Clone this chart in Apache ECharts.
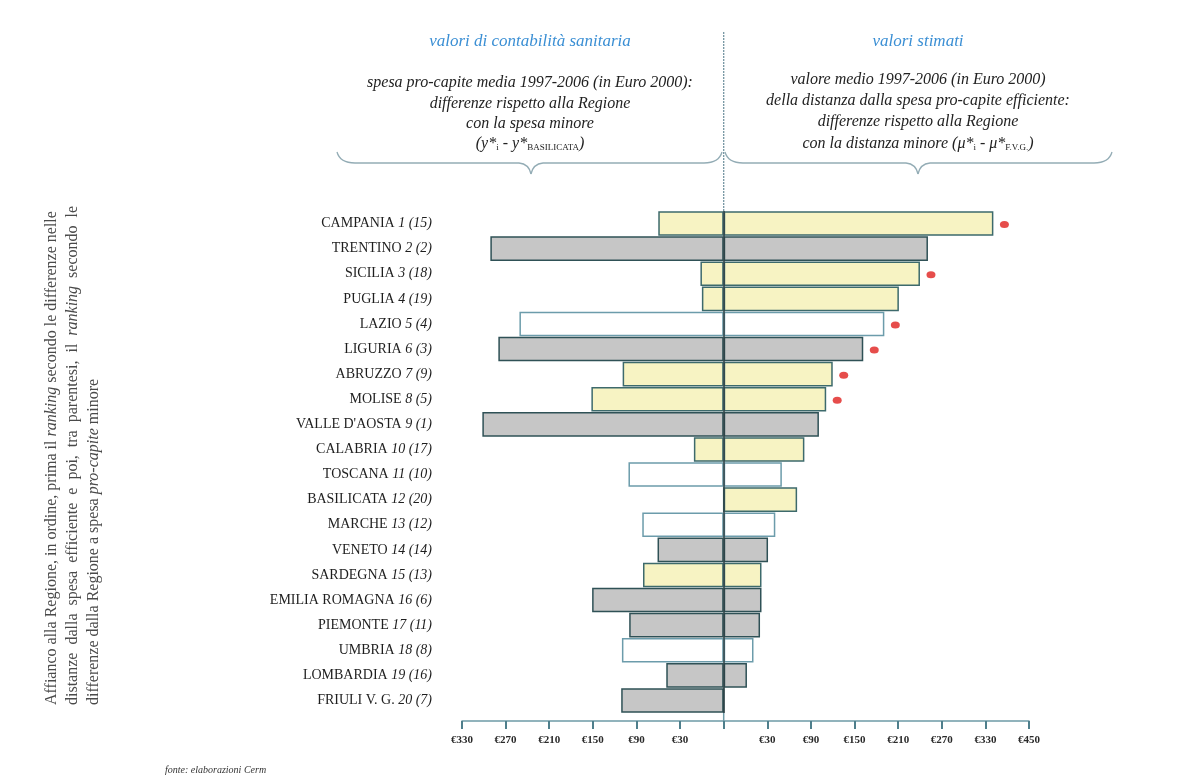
<!DOCTYPE html>
<html>
<head>
<meta charset="utf-8">
<script src="https://cdn.jsdelivr.net/npm/echarts@6/dist/echarts.min.js"></script>
<style>
html,body{margin:0;padding:0;background:#fff;}
#chart{width:1189px;height:776px;}
</style>
</head>
<body>
<div id="chart"></div>
<script>
// ---- data ----
const regions = ['CAMPANIA','TRENTINO','SICILIA','PUGLIA','LAZIO','LIGURIA','ABRUZZO','MOLISE',"VALLE D'AOSTA",'CALABRIA','TOSCANA','BASILICATA','MARCHE','VENETO','SARDEGNA','EMILIA ROMAGNA','PIEMONTE','UMBRIA','LOMBARDIA','FRIULI V. G.'];
const rankDistance = [1,2,3,4,5,6,7,8,9,10,11,12,13,14,15,16,17,18,19,20];
const rankSpending = [15,2,18,19,4,3,9,5,1,17,10,20,12,14,13,6,11,8,16,7];
// left: differences in per-capita spending vs Basilicata (drawn leftwards)
const spendingDiff = [-90,-321,-32,-30,-281,-310,-139,-182,-332,-41,-131,0,-112,-91,-111,-181,-130,-140,-79,-141];
// right: differences in distance from efficient spending vs Friuli V.G.
const distanceDiff = [371,281,270,241,221,192,150,141,131,111,80,101,71,61,52,52,50,41,32,0];
// colour class of each region row: y = yellow, g = grey, w = white
const rowClass = ['y','g','y','y','w','g','y','y','g','y','w','y','w','g','y','g','g','w','g','g'];
// red markers (1 = marked)
const marked = [1,0,1,0,1,1,1,1,0,0,0,0,0,0,0,0,0,0,0,0];
const tickLabels = ['€330','€270','€210','€150','€90','€30','','€30','€90','€150','€210','€270','€330','€450'];
const axisMin = -360, axisMax = 420, axisStep = 60;

(function(){
// ---- styles ----
const fills = {y:'#f7f3c3', g:'#c6c6c6', w:'#ffffff'};
const borders = {y:'#3d6a6c', g:'#2f5156', w:'#6c9cab'};
const serif = '"Liberation Serif", "DejaVu Serif", serif';

const categories = regions.map((r,i)=> r + ' ' + rankDistance[i] + ' (' + rankSpending[i] + ')');

function barData(vals){
  return vals.map((v,i)=>({
    value: v,
    itemStyle: {color: fills[rowClass[i]], borderColor: borders[rowClass[i]], borderWidth: 1.5}
  }));
}
const dots = [];
categories.forEach((c,i)=>{ if(marked[i]) dots.push([distanceDiff[i], c]); });

const chart = echarts.init(document.getElementById('chart'));
const option = {
  backgroundColor: '#ffffff',
  animation: false,
  grid: {left: 462, right: 160, top: 211, bottom: 63},
  xAxis: {
    type: 'value', min: axisMin, max: axisMax, interval: axisStep,
    offset: 8,
    splitLine: {show: false},
    axisLine: {show: true, lineStyle: {color: '#6d9aa6', width: 1.5}},
    axisTick: {show: true, length: 8, lineStyle: {color: '#4f7f8c', width: 2}},
    axisLabel: {
      margin: 14, color: '#2a2a2a', fontFamily: serif, fontWeight: 'bold', fontSize: 11,
      formatter: v => tickLabels[Math.round((v - axisMin)/axisStep)] || ''
    }
  },
  yAxis: {
    type: 'category', inverse: true, data: categories,
    axisLine: {show: false}, axisTick: {show: false},
    axisLabel: {
      margin: 30, color: '#1e1e1e', fontFamily: serif, fontSize: 14,
      formatter: (v, i) => regions[i] + ' {r|' + rankDistance[i] + ' (' + rankSpending[i] + ')}',
      rich: {r: {fontStyle: 'italic', fontFamily: serif, fontSize: 14, color: '#1e1e1e'}}
    }
  },
  series: [
    {
      type: 'bar', name: 'spesa', data: barData(spendingDiff),
      barGap: '-100%', barCategoryGap: '2%',
      markLine: {
        silent: true, symbol: 'none', label: {show: false},
        lineStyle: {color: '#2e4246', width: 1.5, type: 'solid'},
        data: [{xAxis: 0}]
      },
      z: 2
    },
    {
      type: 'bar', name: 'distanza', data: barData(distanceDiff),
      barGap: '-100%', barCategoryGap: '2%', z: 2
    },
    {
      type: 'scatter', data: dots, symbol: 'circle', symbolSize: [9, 7],
      symbolOffset: [11, 1], itemStyle: {color: '#e0201e'}, z: 3
    }
  ]
};
chart.setOption(option);

// ---- decorations (headers, braces, notes) ----
const cx = chart.convertToPixel({xAxisIndex: 0}, 0);
const leftC = 530, rightC = 918;
const hdr = (x, y, text, extra) => ({
  type: 'text', x: x, y: y, silent: true,
  style: Object.assign({text: text, font: 'italic 16px ' + serif, fill: '#222', align: 'center', verticalAlign: 'middle'}, extra || {})
});
const subRich = {s: {fontSize: 9, fontFamily: serif, fill: '#222', fontStyle: 'normal', verticalAlign: 'bottom'}};
const itRich = {i: {fontStyle: 'italic', fontSize: 16, fontFamily: serif, fill: '#4a4a4a'}};

// curly brace built from quadratic curves and straight segments
function brace(x0, x1, xm, yEnd, yMid, yTip){
  const st = {stroke: '#93acb5', lineWidth: 1.3, fill: 'none'};
  const q = (a, b, c, d, e, f) => ({type: 'bezierCurve', silent: true, shape: {x1: a, y1: b, x2: c, y2: d, cpx1: e, cpy1: f}, style: st});
  const l = (a, b, c, d) => ({type: 'line', silent: true, shape: {x1: a, y1: b, x2: c, y2: d}, style: st});
  return [
    q(x0, yEnd, x0 + 18, yMid, x0 + 3, yMid),
    l(x0 + 18, yMid, xm - 12, yMid),
    q(xm - 12, yMid, xm, yTip, xm - 2, yMid + 1),
    q(xm, yTip, xm + 12, yMid, xm + 2, yMid + 1),
    l(xm + 12, yMid, x1 - 18, yMid),
    q(x1 - 18, yMid, x1, yEnd, x1 - 3, yMid)
  ];
}

const vt = (x, text) => ({type: 'text', silent: true, x: x, y: 705, rotation: Math.PI/2,
  style: {text: text, font: '16px ' + serif, fill: '#4a4a4a', align: 'left', verticalAlign: 'middle', rich: itRich}});

const graphics = [
    {type: 'line', silent: true, shape: {x1: cx, y1: 32, x2: cx, y2: 211},
     style: {stroke: '#7696a2', lineWidth: 1.3, lineDash: [2, 1]}},
    {type: 'line', silent: true, shape: {x1: cx, y1: 713, x2: cx, y2: 721},
     style: {stroke: '#6d9aa6', lineWidth: 1.5}},
    hdr(leftC, 42, 'valori di contabilità sanitaria', {fill: '#3b8fd4', font: 'italic 17px ' + serif}),
    hdr(rightC, 42, 'valori stimati', {fill: '#3b8fd4', font: 'italic 17px ' + serif}),
    hdr(leftC, 83, 'spesa pro-capite media 1997-2006 (in Euro 2000):'),
    hdr(leftC, 104, 'differenze rispetto alla Regione'),
    hdr(leftC, 124, 'con la spesa minore'),
    hdr(leftC, 144, '(y*{s|i} - y*{s|BASILICATA})', {rich: subRich}),
    hdr(rightC, 80, 'valore medio 1997-2006 (in Euro 2000)'),
    hdr(rightC, 101, 'della distanza dalla spesa pro-capite efficiente:'),
    hdr(rightC, 122, 'differenze rispetto alla Regione'),
    hdr(rightC, 144, 'con la distanza minore (μ*{s|i} - μ*{s|F.V.G.})', {rich: subRich}),
    vt(52, 'Affianco alla Regione, in ordine, prima il {i|ranking} secondo le differenze nelle'),
    vt(73, 'distanze  dalla  spesa  efficiente  e  poi,  tra  parentesi,  il  {i|ranking}  secondo  le'),
    vt(94, 'differenze dalla Regione a spesa {i|pro-capite} minore'),
    {type: 'text', silent: true, x: 165, y: 770,
     style: {text: 'fonte: elaborazioni Cerm', font: 'italic 10px ' + serif, fill: '#333', align: 'left', verticalAlign: 'middle'}}
].concat(brace(337, 722, 531, 152, 163, 174), brace(725, 1112, 918, 152, 163, 174));

chart.setOption({graphic: graphics});
})();
</script>
</body>
</html>
